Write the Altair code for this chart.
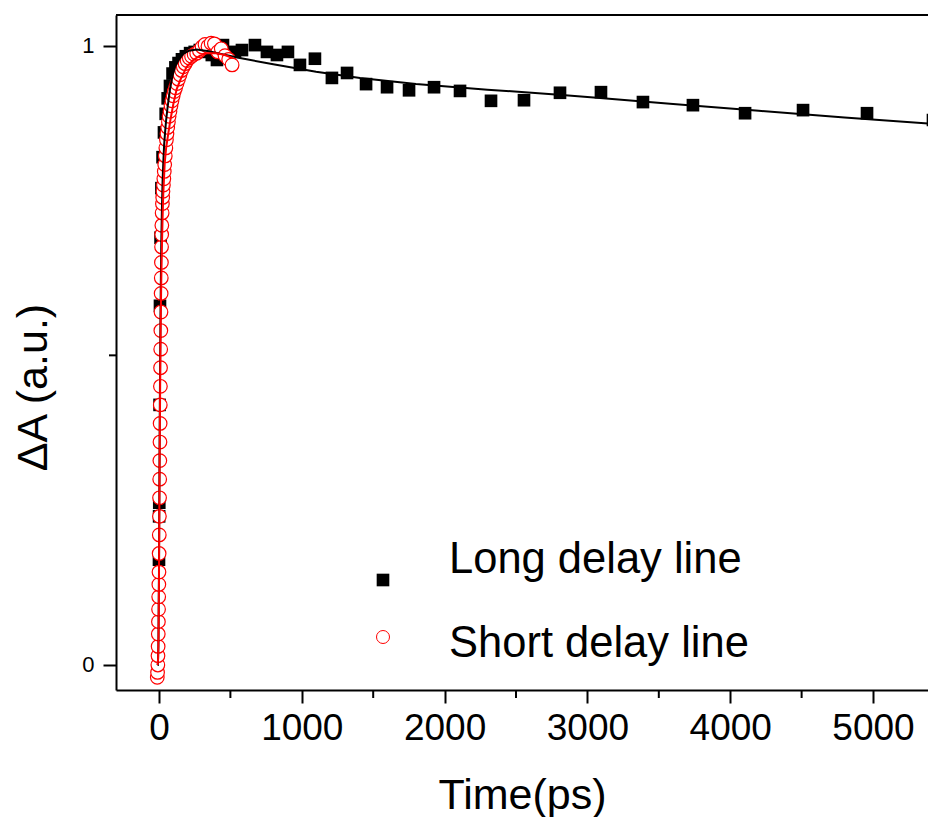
import altair as alt
import pandas as pd

# ---- data ----
long_t = [0, 1, 2, 4, 7, 11, 17, 25, 35, 47, 61, 77, 95, 115, 137, 161, 188, 218, 250, 286,
          326, 370, 406, 448, 532, 581, 672, 756, 826, 903, 987, 1092, 1211, 1317, 1450, 1597,
          1751, 1926, 2108, 2325, 2556, 2808, 3095, 3389, 3739, 4104, 4510, 4958, 5420]
long_a = [0.17, 0.24, 0.262, 0.42, 0.58, 0.69, 0.77, 0.82, 0.86, 0.89, 0.915, 0.935, 0.955, 0.965,
          0.972, 0.978, 0.983, 0.988, 0.99, 0.993, 0.99, 0.985, 0.977, 1.001, 0.99, 0.993, 1.001,
          0.99, 0.985, 0.99, 0.969, 0.979, 0.948, 0.956, 0.938, 0.933, 0.928, 0.933, 0.927, 0.911,
          0.912, 0.924, 0.925, 0.909, 0.904, 0.891, 0.896, 0.891, 0.880]

short_t = [-12, -10, -8, -7, -6, -5, -4, -3, -2, -1, 0, 1, 2, 3, 4, 5, 6, 7, 8, 9, 10, 11, 12, 13,
           14, 15, 16, 17, 18, 19, 20, 22, 24, 26, 28, 31, 34, 37, 40, 44, 48, 52, 56, 61, 66, 71,
           77, 84, 91, 99, 107, 116, 126, 136, 147, 158, 170, 183, 197, 212, 228, 246, 264, 283,
           302, 322, 343, 365, 388, 412, 436, 462, 488, 512]
short_a = [-0.02, -0.012, 0.0, 0.015, 0.03, 0.05, 0.07, 0.09, 0.11, 0.13, 0.15, 0.18, 0.21, 0.24,
           0.27, 0.30, 0.33, 0.36, 0.39, 0.42, 0.45, 0.48, 0.51, 0.54, 0.57, 0.60, 0.625, 0.65,
           0.675, 0.695, 0.71, 0.73, 0.745, 0.755, 0.765, 0.775, 0.785, 0.797, 0.808, 0.822, 0.835,
           0.848, 0.858, 0.868, 0.877, 0.886, 0.894, 0.903, 0.911, 0.919, 0.926, 0.932, 0.939,
           0.946, 0.953, 0.96, 0.966, 0.971, 0.976, 0.98, 0.983, 0.986, 0.988, 0.992, 0.998, 1.002,
           0.999, 1.004, 1.003, 0.99, 0.995, 0.984, 0.978, 0.969]

long_fit_t = [-10, -8, -4, 0, 2, 4, 6, 8, 10, 13, 16, 20, 25, 30, 36, 42, 50, 60, 77, 95, 112, 140,
              170, 210, 264, 350, 450, 567, 800, 1100, 1408, 1800, 2300, 2800, 3088, 3600, 4200,
              4800, 5445]
long_fit_a = [0, 0.0, 0.03, 0.15, 0.25, 0.34, 0.42, 0.49, 0.55, 0.62, 0.68, 0.73, 0.78, 0.81, 0.84,
              0.858, 0.88, 0.90, 0.93, 0.952, 0.966, 0.978, 0.987, 0.992, 0.994, 0.991, 0.986,
              0.98, 0.97, 0.958, 0.948, 0.938, 0.929, 0.921, 0.9155, 0.906, 0.895, 0.884, 0.8736]

short_fit_t = [-10, -6, -3, 0, 2, 4, 6, 8, 10, 13, 16, 20, 25, 30, 40, 50, 65, 80, 100, 124, 150,
               194, 240, 287, 340, 400, 460, 518]
short_fit_a = [0, 0.01, 0.05, 0.14, 0.23, 0.31, 0.38, 0.44, 0.5, 0.57, 0.62, 0.67, 0.72, 0.76, 0.81,
               0.835, 0.858, 0.88, 0.905, 0.93, 0.945, 0.966, 0.977, 0.984, 0.988, 0.988, 0.985, 0.98]

x_major = [0, 1000, 2000, 3000, 4000, 5000]
x_minor = [500, 1500, 2500, 3500, 4500]
y_major = [0, 1]
y_minor = [0.5]
legend_labels = ["Long delay line", "Short delay line"]
x_title = "Time(ps)"
y_title = "\u0394A (a.u.)"

X_DOMAIN = [-301, 5385]
Y_DOMAIN = [-0.0404, 1.0496]

W, H = 812, 675
FONT = "Liberation Sans"

xs = alt.Scale(domain=X_DOMAIN, nice=False, zero=False)
ys = alt.Scale(domain=Y_DOMAIN, nice=False, zero=False)

x_axis = alt.Axis(values=x_major, format="d", title=x_title, grid=False, tickSize=13, tickWidth=2,
                  tickColor="black", domainColor="black", domainWidth=2,
                  labelFont=FONT, labelFontSize=37, labelColor="black", labelPadding=7,
                  labelFlush=False,
                  titleFont=FONT, titleFontSize=43, titleFontWeight="normal", titleColor="black",
                  titleY=118, titleBaseline="alphabetic")
y_axis = alt.Axis(values=y_major, format="d", title=y_title, grid=False, tickSize=13, tickWidth=2,
                  tickColor="black", domainColor="black", domainWidth=2,
                  labelFont=FONT, labelFontSize=22, labelColor="black", labelPadding=9,
                  labelFlush=False,
                  titleFont=FONT, titleFontSize=43, titleFontWeight="normal", titleColor="black",
                  titleAngle=270, titleX=-70, titleY=372, titleAlign="center",
                  titleBaseline="alphabetic")

long_df = pd.DataFrame({"t": long_t, "a": long_a})
short_df = pd.DataFrame({"t": short_t, "a": short_a})
long_fit_df = pd.DataFrame({"t": long_fit_t, "a": long_fit_a})
short_fit_df = pd.DataFrame({"t": short_fit_t, "a": short_fit_a})

X = alt.X("t:Q", scale=xs, axis=x_axis)
Y = alt.Y("a:Q", scale=ys, axis=y_axis)

squares = alt.Chart(long_df).mark_square(size=160, color="black", opacity=1).encode(x=X, y=Y)
circles = alt.Chart(short_df).mark_point(shape="circle", size=185, filled=False, fill="white",
                                         fillOpacity=1, stroke="red", strokeWidth=1.2,
                                         opacity=1).encode(x=X, y=Y)
long_line = alt.Chart(long_fit_df).mark_line(color="black", strokeWidth=2).encode(x=X, y=Y)
short_line = alt.Chart(short_fit_df).mark_line(color="red", strokeWidth=2).encode(x=X, y=Y)

# minor ticks
xminor_df = pd.DataFrame({"t": x_minor})
yminor_df = pd.DataFrame({"a": y_minor})
x_minor_ticks = alt.Chart(xminor_df).mark_rule(color="black", strokeWidth=2).encode(
    x=alt.X("t:Q", scale=xs, axis=x_axis), y=alt.value(H), y2=alt.value(H + 8))
y_minor_ticks = alt.Chart(yminor_df).mark_rule(color="black", strokeWidth=2).encode(
    y=alt.Y("a:Q", scale=ys, axis=y_axis), x=alt.value(-7), x2=alt.value(0))

# top frame line
top_line = alt.Chart(alt.Data(values=[{"k": 1}])).mark_rule(color="black", strokeWidth=2).encode(
    x=alt.value(0), x2=alt.value(W + 2), y=alt.value(0))

# legend
leg1_sym = alt.Chart(alt.Data(values=[{"s": legend_labels[0]}])).mark_square(
    size=160, color="black", opacity=1).encode(x=alt.value(267), y=alt.value(565))
leg1_txt = alt.Chart(alt.Data(values=[{"s": legend_labels[0]}])).mark_text(
    align="left", baseline="alphabetic", fontSize=43.5, font=FONT, color="black").encode(
    x=alt.value(333), y=alt.value(558), text="s:N")
leg2_sym = alt.Chart(alt.Data(values=[{"s": legend_labels[1]}])).mark_point(
    shape="circle", size=169, filled=False, color="red", strokeWidth=1, opacity=1).encode(
    x=alt.value(267), y=alt.value(622))
leg2_txt = alt.Chart(alt.Data(values=[{"s": legend_labels[1]}])).mark_text(
    align="left", baseline="alphabetic", fontSize=43.5, font=FONT, color="black").encode(
    x=alt.value(333), y=alt.value(642), text="s:N")

chart = alt.layer(
    squares, circles, long_line, short_line, x_minor_ticks, y_minor_ticks, top_line,
    leg1_sym, leg1_txt, leg2_sym, leg2_txt
).properties(
    width=W, height=H,
    padding={"left": 108, "top": 7, "right": 0, "bottom": 127},
    autosize=alt.AutoSizeParams(type="none"),
    background="white",
).configure_view(stroke=None)

chart.save("out.html", embed_options={"renderer": "svg", "actions": False})
